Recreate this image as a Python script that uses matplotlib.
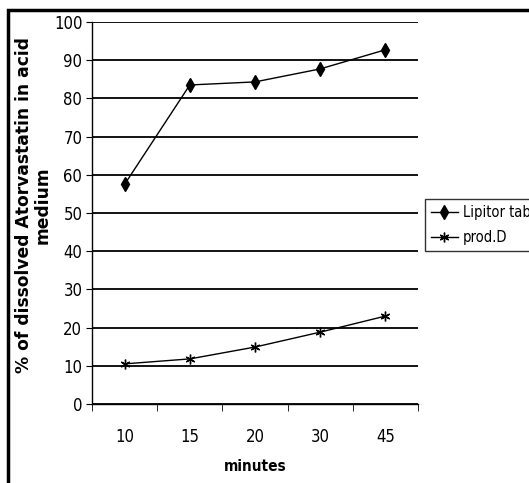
import matplotlib.pyplot as plt
from matplotlib.patches import Rectangle

minutes = ['10', '15', '20', '30', '45']
lipitor = [57.5, 83.5, 84.3, 87.7, 92.7]
prod_d = [10.5, 11.8, 14.9, 18.8, 23.0]

plt.rcParams['font.family'] = ['DejaVu Sans']
plt.rcParams['font.stretch'] = 'condensed'

fig = plt.figure(figsize=(5.29, 4.83), dpi=100)
ax = fig.add_axes([0.174, 0.1636, 0.616, 0.791])

x = range(len(minutes))
ax.plot(x, lipitor, color='black', lw=1, marker='d', markersize=7, label='Lipitor tablets')
ax.plot(x, prod_d, color='black', lw=1, marker=(6, 2, 0), markersize=7, label='prod.D')

ax.set_xlim(-0.5, len(minutes) - 0.5)
ax.set_ylim(0, 100)
ax.set_yticks(range(0, 101, 10))
ax.set_xticks(x)
ax.set_xticklabels(minutes, fontsize=12)
ax.set_xticks([i - 0.5 for i in range(len(minutes) + 1)], minor=True)
ax.tick_params(axis='x', which='major', length=0, pad=17)
ax.tick_params(axis='x', which='minor', length=5, color='black', direction='out')
ax.tick_params(axis='y', labelsize=12, length=4, direction='out', color='black', pad=3)
ax.yaxis.grid(True, color='black', lw=1.3)
ax.set_axisbelow(True)
for s in ['top', 'right']:
    ax.spines[s].set_visible(False)
ax.spines['left'].set_linewidth(1)
ax.spines['bottom'].set_linewidth(1)

ax.set_xlabel('minutes', fontsize=11, fontweight='bold', labelpad=10)
ax.set_ylabel('% of dissolved Atorvastatin in acid\nmedium', fontsize=12.3,
              fontweight='bold', linespacing=1.05, fontstretch='normal')
ax.yaxis.set_label_coords(-0.125, 0.52)

leg = fig.legend(loc='upper left', bbox_to_anchor=(0.803, 0.588), frameon=True,
                 fancybox=False, edgecolor='black', fontsize=10.5, handlelength=1.9,
                 handletextpad=0.3, borderpad=0.4, labelspacing=0.7, borderaxespad=0)
leg.get_frame().set_linewidth(1)

fig.patches.append(Rectangle((8 / 529, -0.1), 1.2, 1 - 10 / 483 + 0.1,
                             transform=fig.transFigure, fill=False,
                             edgecolor='black', lw=2.5))

fig.savefig('out.png', dpi=100)
